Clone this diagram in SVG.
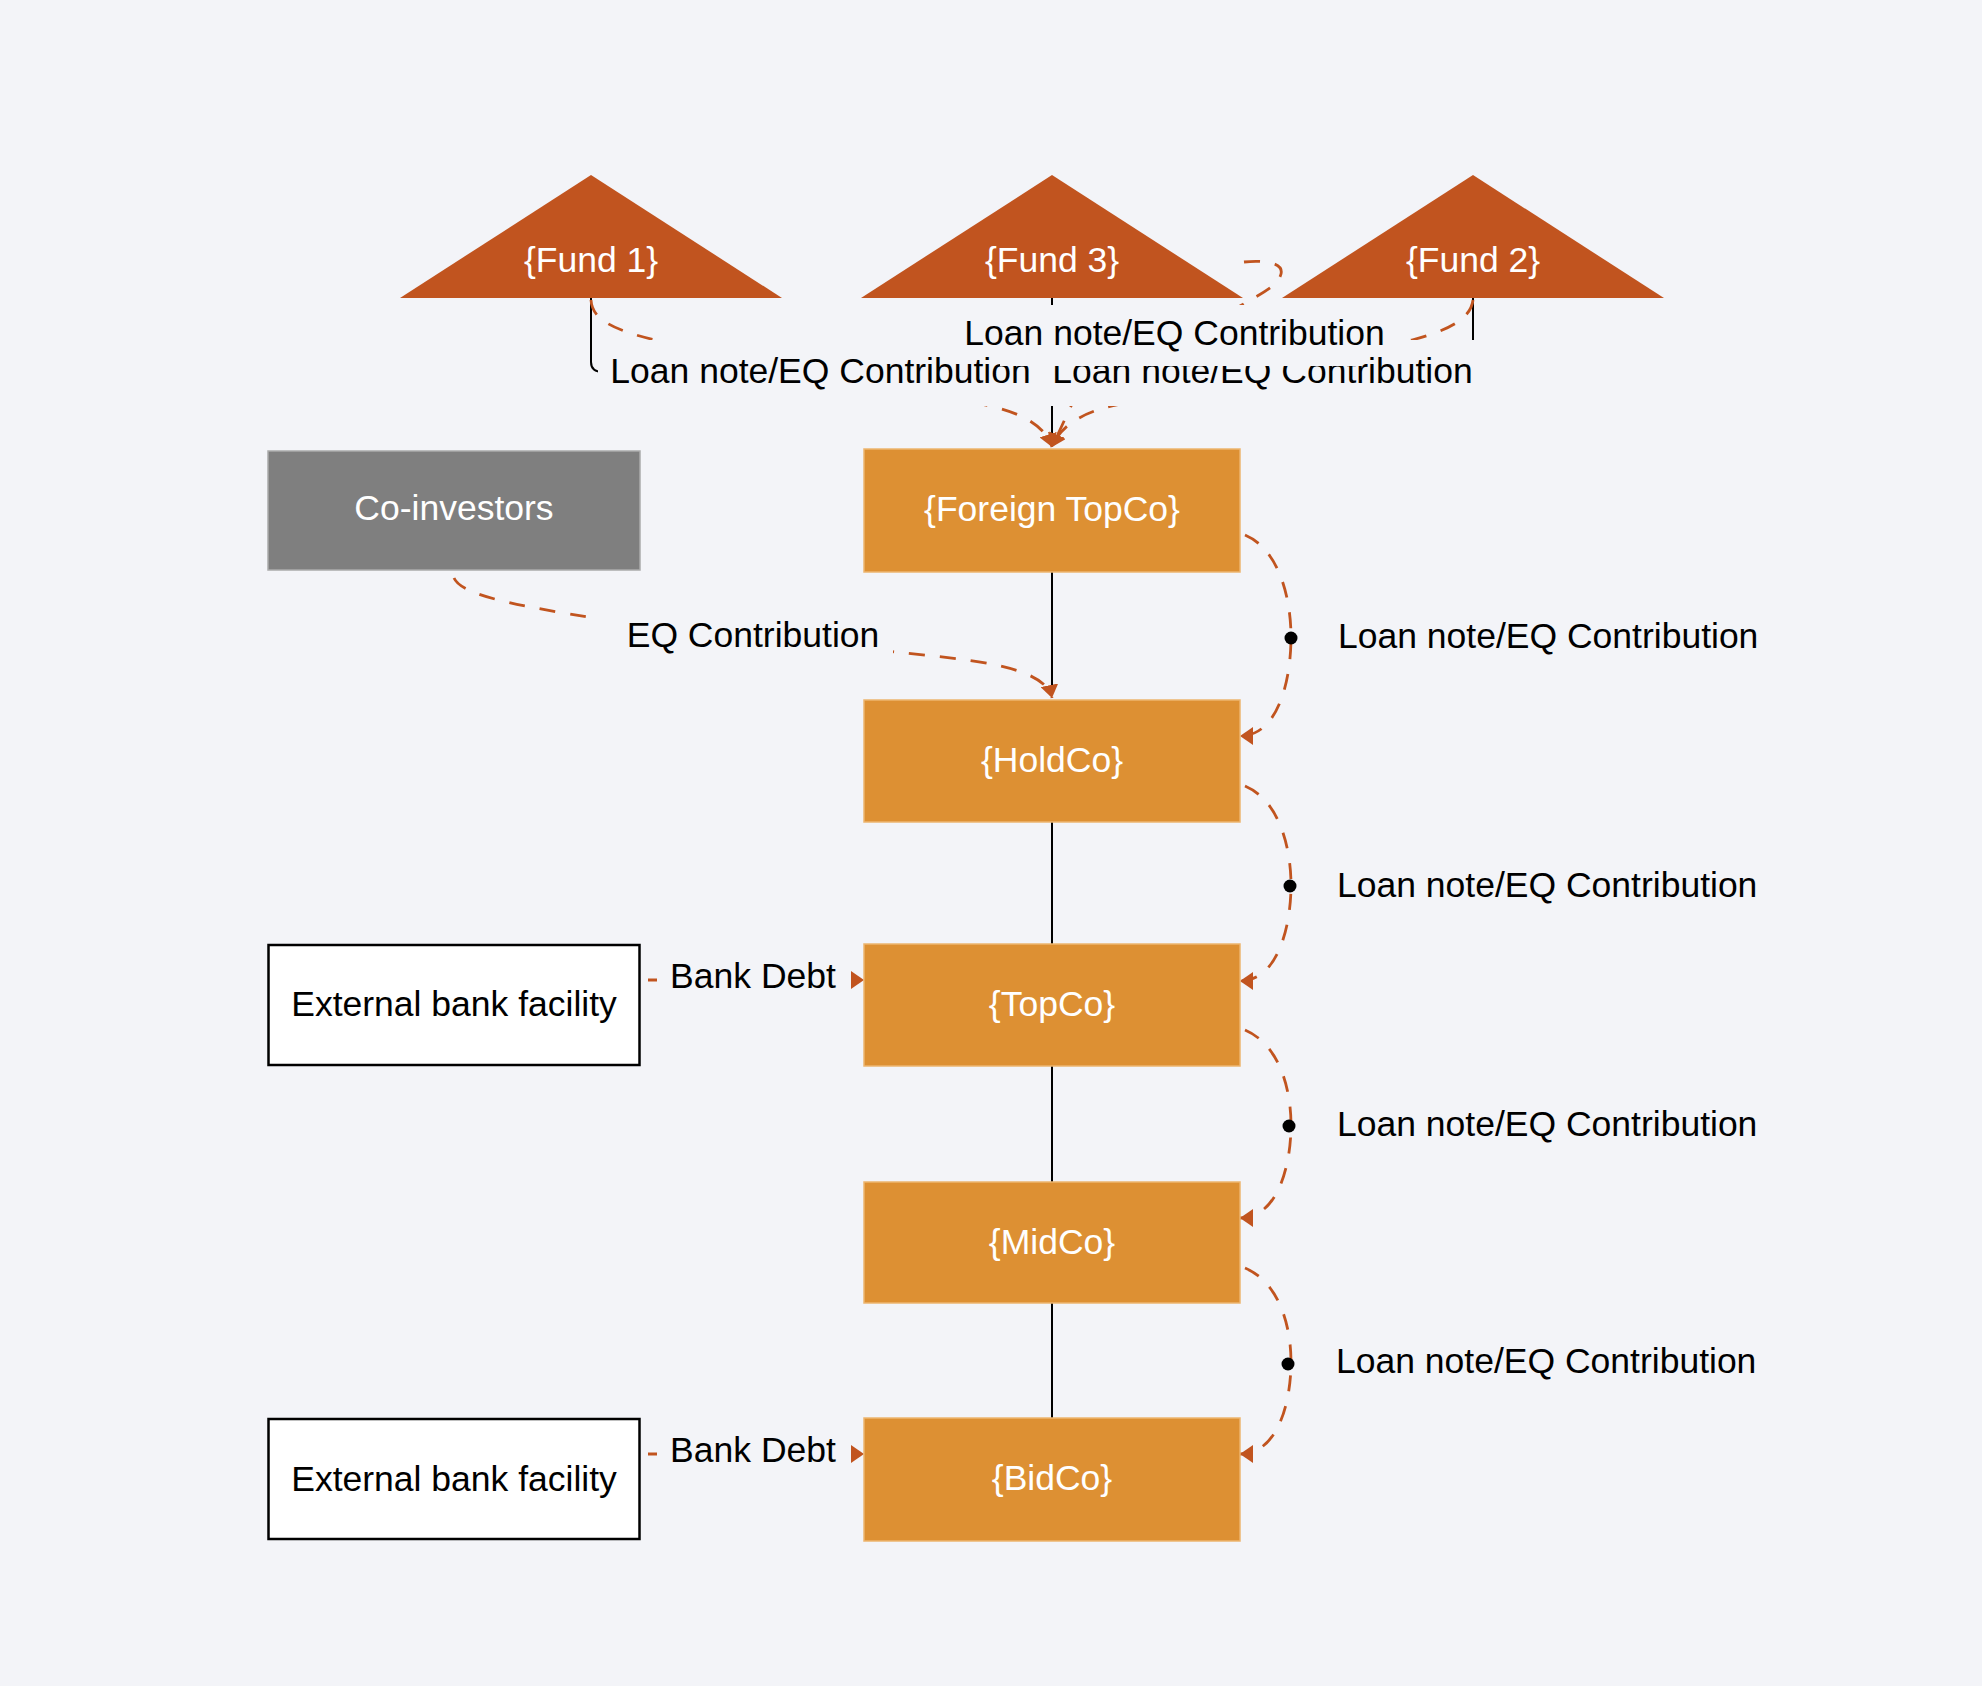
<svg xmlns="http://www.w3.org/2000/svg" width="1982" height="1686" viewBox="0 0 1982 1686">
<style>
.t{font-family:"Liberation Sans",Arial,Helvetica,sans-serif;font-size:35.5px}
.w{fill:#FFFFFF}
.k{fill:#000000}
.tri{fill:#C1541F}
.box{fill:#DD9033;stroke:#EDB56F;stroke-width:1.5}
.ext{fill:#FFFFFF;stroke:#000000;stroke-width:2.5}
.solid{fill:none;stroke:#000000;stroke-width:2}
.dash{fill:none;stroke:#C1541F;stroke-width:2.8;stroke-dasharray:16 15}
.bd{stroke-dashoffset:24}
.lbg{fill:#F3F4F8}
</style>
<defs>
<marker id="arr" viewBox="0 0 13 18" refX="13" refY="9" markerWidth="13" markerHeight="18" markerUnits="userSpaceOnUse" orient="auto">
<path d="M0,0 L13,9 L0,18 z" fill="#C1541F"/>
</marker>
</defs>
<rect x="0" y="0" width="1982" height="1686" fill="#F3F4F8"/>

<g id="connectors">
  <path class="solid" d="M591,298 L591,362 Q591,372 603,372"/>
  <path class="solid" d="M1473,298 L1473,346"/>
  <path class="solid" d="M1052,298 L1052,440"/>
  <path class="solid" d="M1052,572 L1052,690"/>
  <path class="solid" d="M1052,822 L1052,944"/>
  <path class="solid" d="M1052,1066 L1052,1182"/>
  <path class="solid" d="M1052,1303 L1052,1418"/>
  <path class="dash" marker-end="url(#arr)" d="M591,300 C592,318 610,330 660,341 L985,405 C1020,412 1045,425 1052,447"/>
  <path class="dash" marker-end="url(#arr)" d="M1473,300 C1471,318 1450,330 1412,340 L1112,406 C1085,412 1060,425 1052,447"/>
  <path class="dash" marker-end="url(#arr)" d="M1244,262 C1262,260 1284,262 1281,274 C1278,286 1262,293 1240,306 L1072,404 L1052,447"/>
  <path class="dash" marker-end="url(#arr)" d="M454,578 C462,596 520,606 600,619 L895,652 C960,659 1045,664 1052,698"/>
  <path class="dash bd" marker-end="url(#arr)" d="M641,980 L864,980"/>
  <path class="dash bd" marker-end="url(#arr)" d="M641,1454 L864,1454"/>
  <path class="dash" marker-end="url(#arr)" d="M1245,535 C1280,550 1291,600 1291,637 C1291,681 1278,736 1240,736"/>
  <path class="dash" marker-end="url(#arr)" d="M1245,786 C1280,801 1291,849 1291,885 C1291,926 1278,981 1240,981"/>
  <path class="dash" marker-end="url(#arr)" d="M1245,1030 C1280,1045 1291,1090 1291,1125 C1291,1165 1278,1218 1240,1218"/>
  <path class="dash" marker-end="url(#arr)" d="M1245,1268 C1280,1283 1291,1327 1291,1362 C1291,1402 1278,1454 1240,1454"/>
  <circle cx="1291" cy="638" r="6.5" fill="#000"/>
  <circle cx="1290" cy="886" r="6.5" fill="#000"/>
  <circle cx="1289" cy="1126" r="6.5" fill="#000"/>
  <circle cx="1288" cy="1364" r="6.5" fill="#000"/>

  <rect class="lbg" x="598" y="340" width="446" height="66"/>
  <text class="t k" x="820.5" y="383" text-anchor="middle">Loan note/EQ Contribution</text>
  <rect class="lbg" x="1040" y="340" width="447" height="66"/>
  <text class="t k" x="1262.5" y="383" text-anchor="middle">Loan note/EQ Contribution</text>
  <rect class="lbg" x="1000" y="305" width="362" height="61"/>
  <text class="t k" x="1174.5" y="345" text-anchor="middle">Loan note/EQ Contribution</text>

  <rect class="lbg" x="600" y="605" width="293" height="63"/>
  <text class="t k" x="753" y="647" text-anchor="middle">EQ Contribution</text>
  <rect class="lbg" x="657" y="958" width="194" height="44"/>
  <text class="t k" x="753" y="988" text-anchor="middle">Bank Debt</text>
  <rect class="lbg" x="657" y="1432" width="194" height="44"/>
  <text class="t k" x="753" y="1462" text-anchor="middle">Bank Debt</text>

  <text class="t k" x="1338" y="648">Loan note/EQ Contribution</text>
  <text class="t k" x="1337" y="897">Loan note/EQ Contribution</text>
  <text class="t k" x="1337" y="1136">Loan note/EQ Contribution</text>
  <text class="t k" x="1336" y="1373">Loan note/EQ Contribution</text>
</g>

<g id="fund1">
  <polygon class="tri" points="591,175 782,298 400,298"/>
  <text class="t w" x="591" y="272" text-anchor="middle">{Fund 1}</text>
</g>
<g id="fund3">
  <polygon class="tri" points="1052,175 1243,298 861,298"/>
  <text class="t w" x="1052" y="272" text-anchor="middle">{Fund 3}</text>
</g>
<g id="fund2">
  <polygon class="tri" points="1473,175 1664,298 1282,298"/>
  <text class="t w" x="1473" y="272" text-anchor="middle">{Fund 2}</text>
</g>
<g id="coinvestors">
  <rect x="268" y="451" width="372" height="119" fill="#7F7F7F" stroke="#ABABAB" stroke-width="1.5"/>
  <text class="t w" x="454" y="520" text-anchor="middle">Co-investors</text>
</g>
<g id="foreigntopco">
  <rect class="box" x="864" y="449" width="376" height="123"/>
  <text class="t w" x="1052" y="520.5" text-anchor="middle">{Foreign TopCo}</text>
</g>
<g id="holdco">
  <rect class="box" x="864" y="700" width="376" height="122"/>
  <text class="t w" x="1052" y="771.5" text-anchor="middle">{HoldCo}</text>
</g>
<g id="topco">
  <rect class="box" x="864" y="944" width="376" height="122"/>
  <text class="t w" x="1052" y="1015.5" text-anchor="middle">{TopCo}</text>
</g>
<g id="midco">
  <rect class="box" x="864" y="1182" width="376" height="121"/>
  <text class="t w" x="1052" y="1253.5" text-anchor="middle">{MidCo}</text>
</g>
<g id="bidco">
  <rect class="box" x="864" y="1418" width="376" height="123"/>
  <text class="t w" x="1052" y="1489.5" text-anchor="middle">{BidCo}</text>
</g>
<g id="bank1">
  <rect class="ext" x="268.5" y="945" width="371" height="120"/>
  <text class="t k" x="454" y="1016" text-anchor="middle">External bank facility</text>
</g>
<g id="bank2">
  <rect class="ext" x="268.5" y="1419" width="371" height="120"/>
  <text class="t k" x="454" y="1491" text-anchor="middle">External bank facility</text>
</g>
</svg>
